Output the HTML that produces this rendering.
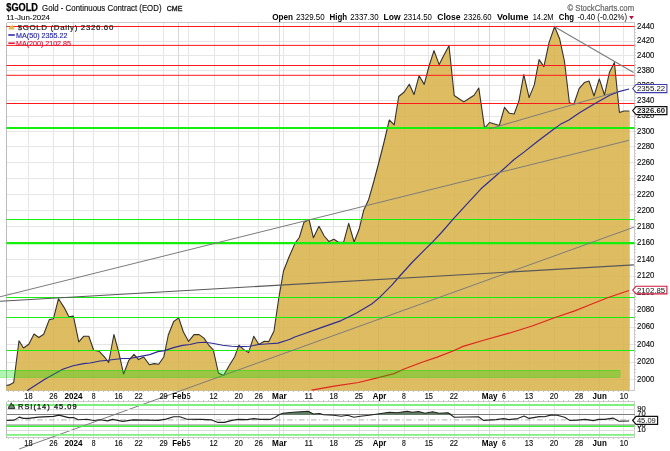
<!DOCTYPE html>
<html><head><meta charset="utf-8"><title>$GOLD</title>
<style>html,body{margin:0;padding:0;background:#fff}svg{display:block;will-change:transform;opacity:.9999}text{font-family:"Liberation Sans", sans-serif}</style></head>
<body>
<svg width="670" height="451" viewBox="0 0 670 451">
<rect width="670" height="451" fill="#fff"/>
<g shape-rendering="crispEdges" stroke-width="1"><line x1="6.5" x2="634.5" y1="379.5" y2="379.5" stroke="#e6e6e6"/><line x1="6.5" x2="634.5" y1="362.5" y2="362.5" stroke="#e6e6e6"/><line x1="6.5" x2="634.5" y1="344.5" y2="344.5" stroke="#e6e6e6"/><line x1="6.5" x2="634.5" y1="327.5" y2="327.5" stroke="#e6e6e6"/><line x1="6.5" x2="634.5" y1="309.5" y2="309.5" stroke="#e6e6e6"/><line x1="6.5" x2="634.5" y1="293.5" y2="293.5" stroke="#e6e6e6"/><line x1="6.5" x2="634.5" y1="276.5" y2="276.5" stroke="#e6e6e6"/><line x1="6.5" x2="634.5" y1="259.5" y2="259.5" stroke="#e6e6e6"/><line x1="6.5" x2="634.5" y1="243.5" y2="243.5" stroke="#e6e6e6"/><line x1="6.5" x2="634.5" y1="226.5" y2="226.5" stroke="#e6e6e6"/><line x1="6.5" x2="634.5" y1="210.5" y2="210.5" stroke="#e6e6e6"/><line x1="6.5" x2="634.5" y1="194.5" y2="194.5" stroke="#e6e6e6"/><line x1="6.5" x2="634.5" y1="178.5" y2="178.5" stroke="#e6e6e6"/><line x1="6.5" x2="634.5" y1="162.5" y2="162.5" stroke="#e6e6e6"/><line x1="6.5" x2="634.5" y1="146.5" y2="146.5" stroke="#e6e6e6"/><line x1="6.5" x2="634.5" y1="131.5" y2="131.5" stroke="#e6e6e6"/><line x1="6.5" x2="634.5" y1="116.5" y2="116.5" stroke="#e6e6e6"/><line x1="6.5" x2="634.5" y1="100.5" y2="100.5" stroke="#e6e6e6"/><line x1="6.5" x2="634.5" y1="85.5" y2="85.5" stroke="#e6e6e6"/><line x1="6.5" x2="634.5" y1="70.5" y2="70.5" stroke="#e6e6e6"/><line x1="6.5" x2="634.5" y1="55.5" y2="55.5" stroke="#e6e6e6"/><line x1="6.5" x2="634.5" y1="41.5" y2="41.5" stroke="#e6e6e6"/><line x1="6.5" x2="634.5" y1="26.5" y2="26.5" stroke="#e6e6e6"/><line x1="28.5" x2="28.5" y1="22.5" y2="390.5" stroke="#e6e6e6"/><line x1="28.5" x2="28.5" y1="401.5" y2="437.5" stroke="#e6e6e6"/><line x1="53.5" x2="53.5" y1="22.5" y2="390.5" stroke="#e6e6e6"/><line x1="53.5" x2="53.5" y1="401.5" y2="437.5" stroke="#e6e6e6"/><line x1="73.5" x2="73.5" y1="22.5" y2="390.5" stroke="#d8d8d8"/><line x1="73.5" x2="73.5" y1="401.5" y2="437.5" stroke="#d8d8d8"/><line x1="93.5" x2="93.5" y1="22.5" y2="390.5" stroke="#e6e6e6"/><line x1="93.5" x2="93.5" y1="401.5" y2="437.5" stroke="#e6e6e6"/><line x1="118.5" x2="118.5" y1="22.5" y2="390.5" stroke="#e6e6e6"/><line x1="118.5" x2="118.5" y1="401.5" y2="437.5" stroke="#e6e6e6"/><line x1="138.5" x2="138.5" y1="22.5" y2="390.5" stroke="#e6e6e6"/><line x1="138.5" x2="138.5" y1="401.5" y2="437.5" stroke="#e6e6e6"/><line x1="163.5" x2="163.5" y1="22.5" y2="390.5" stroke="#e6e6e6"/><line x1="163.5" x2="163.5" y1="401.5" y2="437.5" stroke="#e6e6e6"/><line x1="178.5" x2="178.5" y1="22.5" y2="390.5" stroke="#d8d8d8"/><line x1="178.5" x2="178.5" y1="401.5" y2="437.5" stroke="#d8d8d8"/><line x1="188.5" x2="188.5" y1="22.5" y2="390.5" stroke="#e6e6e6"/><line x1="188.5" x2="188.5" y1="401.5" y2="437.5" stroke="#e6e6e6"/><line x1="214.5" x2="214.5" y1="22.5" y2="390.5" stroke="#e6e6e6"/><line x1="214.5" x2="214.5" y1="401.5" y2="437.5" stroke="#e6e6e6"/><line x1="238.5" x2="238.5" y1="22.5" y2="390.5" stroke="#e6e6e6"/><line x1="238.5" x2="238.5" y1="401.5" y2="437.5" stroke="#e6e6e6"/><line x1="258.5" x2="258.5" y1="22.5" y2="390.5" stroke="#e6e6e6"/><line x1="258.5" x2="258.5" y1="401.5" y2="437.5" stroke="#e6e6e6"/><line x1="279.5" x2="279.5" y1="22.5" y2="390.5" stroke="#d8d8d8"/><line x1="279.5" x2="279.5" y1="401.5" y2="437.5" stroke="#d8d8d8"/><line x1="283.5" x2="283.5" y1="22.5" y2="390.5" stroke="#e6e6e6"/><line x1="283.5" x2="283.5" y1="401.5" y2="437.5" stroke="#e6e6e6"/><line x1="309.5" x2="309.5" y1="22.5" y2="390.5" stroke="#e6e6e6"/><line x1="309.5" x2="309.5" y1="401.5" y2="437.5" stroke="#e6e6e6"/><line x1="333.5" x2="333.5" y1="22.5" y2="390.5" stroke="#e6e6e6"/><line x1="333.5" x2="333.5" y1="401.5" y2="437.5" stroke="#e6e6e6"/><line x1="359.5" x2="359.5" y1="22.5" y2="390.5" stroke="#e6e6e6"/><line x1="359.5" x2="359.5" y1="401.5" y2="437.5" stroke="#e6e6e6"/><line x1="378.5" x2="378.5" y1="22.5" y2="390.5" stroke="#d8d8d8"/><line x1="378.5" x2="378.5" y1="401.5" y2="437.5" stroke="#d8d8d8"/><line x1="404.5" x2="404.5" y1="22.5" y2="390.5" stroke="#e6e6e6"/><line x1="404.5" x2="404.5" y1="401.5" y2="437.5" stroke="#e6e6e6"/><line x1="428.5" x2="428.5" y1="22.5" y2="390.5" stroke="#e6e6e6"/><line x1="428.5" x2="428.5" y1="401.5" y2="437.5" stroke="#e6e6e6"/><line x1="454.5" x2="454.5" y1="22.5" y2="390.5" stroke="#e6e6e6"/><line x1="454.5" x2="454.5" y1="401.5" y2="437.5" stroke="#e6e6e6"/><line x1="478.5" x2="478.5" y1="22.5" y2="390.5" stroke="#e6e6e6"/><line x1="478.5" x2="478.5" y1="401.5" y2="437.5" stroke="#e6e6e6"/><line x1="489.5" x2="489.5" y1="22.5" y2="390.5" stroke="#d8d8d8"/><line x1="489.5" x2="489.5" y1="401.5" y2="437.5" stroke="#d8d8d8"/><line x1="504.5" x2="504.5" y1="22.5" y2="390.5" stroke="#e6e6e6"/><line x1="504.5" x2="504.5" y1="401.5" y2="437.5" stroke="#e6e6e6"/><line x1="529.5" x2="529.5" y1="22.5" y2="390.5" stroke="#e6e6e6"/><line x1="529.5" x2="529.5" y1="401.5" y2="437.5" stroke="#e6e6e6"/><line x1="554.5" x2="554.5" y1="22.5" y2="390.5" stroke="#e6e6e6"/><line x1="554.5" x2="554.5" y1="401.5" y2="437.5" stroke="#e6e6e6"/><line x1="579.5" x2="579.5" y1="22.5" y2="390.5" stroke="#e6e6e6"/><line x1="579.5" x2="579.5" y1="401.5" y2="437.5" stroke="#e6e6e6"/><line x1="599.5" x2="599.5" y1="22.5" y2="390.5" stroke="#d8d8d8"/><line x1="599.5" x2="599.5" y1="401.5" y2="437.5" stroke="#d8d8d8"/><line x1="623.5" x2="623.5" y1="22.5" y2="390.5" stroke="#e6e6e6"/><line x1="623.5" x2="623.5" y1="401.5" y2="437.5" stroke="#e6e6e6"/></g>
<g shape-rendering="crispEdges" fill="none" stroke="#cacaca"><path d="M6.5 22.5H634.5V390.5H6.5"/><path d="M6.5 401.5H634.5V437.5H6.5"/></g>
<g shape-rendering="crispEdges" fill="none" stroke="#bcbcbe"><path d="M6.5 22.5V390.5"/><path d="M6.5 401.5V437.5"/></g>
<g fill="#c4c4c4" shape-rendering="crispEdges"><rect x="8" y="391" width="1" height="1"/><rect x="8" y="400" width="1" height="1"/><rect x="8" y="438" width="1" height="1"/><rect x="13" y="391" width="1" height="1"/><rect x="13" y="400" width="1" height="1"/><rect x="13" y="438" width="1" height="1"/><rect x="18" y="391" width="1" height="1"/><rect x="18" y="400" width="1" height="1"/><rect x="18" y="438" width="1" height="1"/><rect x="23" y="391" width="1" height="1"/><rect x="23" y="400" width="1" height="1"/><rect x="23" y="438" width="1" height="1"/><rect x="28" y="391" width="1" height="1"/><rect x="28" y="400" width="1" height="1"/><rect x="28" y="438" width="1" height="1"/><rect x="33" y="391" width="1" height="1"/><rect x="33" y="400" width="1" height="1"/><rect x="33" y="438" width="1" height="1"/><rect x="38" y="391" width="1" height="1"/><rect x="38" y="400" width="1" height="1"/><rect x="38" y="438" width="1" height="1"/><rect x="43" y="391" width="1" height="1"/><rect x="43" y="400" width="1" height="1"/><rect x="43" y="438" width="1" height="1"/><rect x="48" y="391" width="1" height="1"/><rect x="48" y="400" width="1" height="1"/><rect x="48" y="438" width="1" height="1"/><rect x="53" y="391" width="1" height="1"/><rect x="53" y="400" width="1" height="1"/><rect x="53" y="438" width="1" height="1"/><rect x="58" y="391" width="1" height="1"/><rect x="58" y="400" width="1" height="1"/><rect x="58" y="438" width="1" height="1"/><rect x="63" y="391" width="1" height="1"/><rect x="63" y="400" width="1" height="1"/><rect x="63" y="438" width="1" height="1"/><rect x="68" y="391" width="1" height="1"/><rect x="68" y="400" width="1" height="1"/><rect x="68" y="438" width="1" height="1"/><rect x="73" y="391" width="1" height="1"/><rect x="73" y="400" width="1" height="1"/><rect x="73" y="438" width="1" height="1"/><rect x="78" y="391" width="1" height="1"/><rect x="78" y="400" width="1" height="1"/><rect x="78" y="438" width="1" height="1"/><rect x="83" y="391" width="1" height="1"/><rect x="83" y="400" width="1" height="1"/><rect x="83" y="438" width="1" height="1"/><rect x="88" y="391" width="1" height="1"/><rect x="88" y="400" width="1" height="1"/><rect x="88" y="438" width="1" height="1"/><rect x="93" y="391" width="1" height="1"/><rect x="93" y="400" width="1" height="1"/><rect x="93" y="438" width="1" height="1"/><rect x="98" y="391" width="1" height="1"/><rect x="98" y="400" width="1" height="1"/><rect x="98" y="438" width="1" height="1"/><rect x="103" y="391" width="1" height="1"/><rect x="103" y="400" width="1" height="1"/><rect x="103" y="438" width="1" height="1"/><rect x="108" y="391" width="1" height="1"/><rect x="108" y="400" width="1" height="1"/><rect x="108" y="438" width="1" height="1"/><rect x="113" y="391" width="1" height="1"/><rect x="113" y="400" width="1" height="1"/><rect x="113" y="438" width="1" height="1"/><rect x="118" y="391" width="1" height="1"/><rect x="118" y="400" width="1" height="1"/><rect x="118" y="438" width="1" height="1"/><rect x="123" y="391" width="1" height="1"/><rect x="123" y="400" width="1" height="1"/><rect x="123" y="438" width="1" height="1"/><rect x="128" y="391" width="1" height="1"/><rect x="128" y="400" width="1" height="1"/><rect x="128" y="438" width="1" height="1"/><rect x="133" y="391" width="1" height="1"/><rect x="133" y="400" width="1" height="1"/><rect x="133" y="438" width="1" height="1"/><rect x="138" y="391" width="1" height="1"/><rect x="138" y="400" width="1" height="1"/><rect x="138" y="438" width="1" height="1"/><rect x="143" y="391" width="1" height="1"/><rect x="143" y="400" width="1" height="1"/><rect x="143" y="438" width="1" height="1"/><rect x="148" y="391" width="1" height="1"/><rect x="148" y="400" width="1" height="1"/><rect x="148" y="438" width="1" height="1"/><rect x="153" y="391" width="1" height="1"/><rect x="153" y="400" width="1" height="1"/><rect x="153" y="438" width="1" height="1"/><rect x="158" y="391" width="1" height="1"/><rect x="158" y="400" width="1" height="1"/><rect x="158" y="438" width="1" height="1"/><rect x="163" y="391" width="1" height="1"/><rect x="163" y="400" width="1" height="1"/><rect x="163" y="438" width="1" height="1"/><rect x="168" y="391" width="1" height="1"/><rect x="168" y="400" width="1" height="1"/><rect x="168" y="438" width="1" height="1"/><rect x="173" y="391" width="1" height="1"/><rect x="173" y="400" width="1" height="1"/><rect x="173" y="438" width="1" height="1"/><rect x="178" y="391" width="1" height="1"/><rect x="178" y="400" width="1" height="1"/><rect x="178" y="438" width="1" height="1"/><rect x="183" y="391" width="1" height="1"/><rect x="183" y="400" width="1" height="1"/><rect x="183" y="438" width="1" height="1"/><rect x="188" y="391" width="1" height="1"/><rect x="188" y="400" width="1" height="1"/><rect x="188" y="438" width="1" height="1"/><rect x="193" y="391" width="1" height="1"/><rect x="193" y="400" width="1" height="1"/><rect x="193" y="438" width="1" height="1"/><rect x="198" y="391" width="1" height="1"/><rect x="198" y="400" width="1" height="1"/><rect x="198" y="438" width="1" height="1"/><rect x="203" y="391" width="1" height="1"/><rect x="203" y="400" width="1" height="1"/><rect x="203" y="438" width="1" height="1"/><rect x="208" y="391" width="1" height="1"/><rect x="208" y="400" width="1" height="1"/><rect x="208" y="438" width="1" height="1"/><rect x="213" y="391" width="1" height="1"/><rect x="213" y="400" width="1" height="1"/><rect x="213" y="438" width="1" height="1"/><rect x="218" y="391" width="1" height="1"/><rect x="218" y="400" width="1" height="1"/><rect x="218" y="438" width="1" height="1"/><rect x="223" y="391" width="1" height="1"/><rect x="223" y="400" width="1" height="1"/><rect x="223" y="438" width="1" height="1"/><rect x="228" y="391" width="1" height="1"/><rect x="228" y="400" width="1" height="1"/><rect x="228" y="438" width="1" height="1"/><rect x="233" y="391" width="1" height="1"/><rect x="233" y="400" width="1" height="1"/><rect x="233" y="438" width="1" height="1"/><rect x="238" y="391" width="1" height="1"/><rect x="238" y="400" width="1" height="1"/><rect x="238" y="438" width="1" height="1"/><rect x="243" y="391" width="1" height="1"/><rect x="243" y="400" width="1" height="1"/><rect x="243" y="438" width="1" height="1"/><rect x="248" y="391" width="1" height="1"/><rect x="248" y="400" width="1" height="1"/><rect x="248" y="438" width="1" height="1"/><rect x="253" y="391" width="1" height="1"/><rect x="253" y="400" width="1" height="1"/><rect x="253" y="438" width="1" height="1"/><rect x="258" y="391" width="1" height="1"/><rect x="258" y="400" width="1" height="1"/><rect x="258" y="438" width="1" height="1"/><rect x="263" y="391" width="1" height="1"/><rect x="263" y="400" width="1" height="1"/><rect x="263" y="438" width="1" height="1"/><rect x="268" y="391" width="1" height="1"/><rect x="268" y="400" width="1" height="1"/><rect x="268" y="438" width="1" height="1"/><rect x="273" y="391" width="1" height="1"/><rect x="273" y="400" width="1" height="1"/><rect x="273" y="438" width="1" height="1"/><rect x="278" y="391" width="1" height="1"/><rect x="278" y="400" width="1" height="1"/><rect x="278" y="438" width="1" height="1"/><rect x="283" y="391" width="1" height="1"/><rect x="283" y="400" width="1" height="1"/><rect x="283" y="438" width="1" height="1"/><rect x="288" y="391" width="1" height="1"/><rect x="288" y="400" width="1" height="1"/><rect x="288" y="438" width="1" height="1"/><rect x="293" y="391" width="1" height="1"/><rect x="293" y="400" width="1" height="1"/><rect x="293" y="438" width="1" height="1"/><rect x="298" y="391" width="1" height="1"/><rect x="298" y="400" width="1" height="1"/><rect x="298" y="438" width="1" height="1"/><rect x="303" y="391" width="1" height="1"/><rect x="303" y="400" width="1" height="1"/><rect x="303" y="438" width="1" height="1"/><rect x="308" y="391" width="1" height="1"/><rect x="308" y="400" width="1" height="1"/><rect x="308" y="438" width="1" height="1"/><rect x="313" y="391" width="1" height="1"/><rect x="313" y="400" width="1" height="1"/><rect x="313" y="438" width="1" height="1"/><rect x="318" y="391" width="1" height="1"/><rect x="318" y="400" width="1" height="1"/><rect x="318" y="438" width="1" height="1"/><rect x="323" y="391" width="1" height="1"/><rect x="323" y="400" width="1" height="1"/><rect x="323" y="438" width="1" height="1"/><rect x="328" y="391" width="1" height="1"/><rect x="328" y="400" width="1" height="1"/><rect x="328" y="438" width="1" height="1"/><rect x="333" y="391" width="1" height="1"/><rect x="333" y="400" width="1" height="1"/><rect x="333" y="438" width="1" height="1"/><rect x="338" y="391" width="1" height="1"/><rect x="338" y="400" width="1" height="1"/><rect x="338" y="438" width="1" height="1"/><rect x="343" y="391" width="1" height="1"/><rect x="343" y="400" width="1" height="1"/><rect x="343" y="438" width="1" height="1"/><rect x="348" y="391" width="1" height="1"/><rect x="348" y="400" width="1" height="1"/><rect x="348" y="438" width="1" height="1"/><rect x="353" y="391" width="1" height="1"/><rect x="353" y="400" width="1" height="1"/><rect x="353" y="438" width="1" height="1"/><rect x="358" y="391" width="1" height="1"/><rect x="358" y="400" width="1" height="1"/><rect x="358" y="438" width="1" height="1"/><rect x="363" y="391" width="1" height="1"/><rect x="363" y="400" width="1" height="1"/><rect x="363" y="438" width="1" height="1"/><rect x="368" y="391" width="1" height="1"/><rect x="368" y="400" width="1" height="1"/><rect x="368" y="438" width="1" height="1"/><rect x="373" y="391" width="1" height="1"/><rect x="373" y="400" width="1" height="1"/><rect x="373" y="438" width="1" height="1"/><rect x="378" y="391" width="1" height="1"/><rect x="378" y="400" width="1" height="1"/><rect x="378" y="438" width="1" height="1"/><rect x="383" y="391" width="1" height="1"/><rect x="383" y="400" width="1" height="1"/><rect x="383" y="438" width="1" height="1"/><rect x="388" y="391" width="1" height="1"/><rect x="388" y="400" width="1" height="1"/><rect x="388" y="438" width="1" height="1"/><rect x="393" y="391" width="1" height="1"/><rect x="393" y="400" width="1" height="1"/><rect x="393" y="438" width="1" height="1"/><rect x="398" y="391" width="1" height="1"/><rect x="398" y="400" width="1" height="1"/><rect x="398" y="438" width="1" height="1"/><rect x="403" y="391" width="1" height="1"/><rect x="403" y="400" width="1" height="1"/><rect x="403" y="438" width="1" height="1"/><rect x="408" y="391" width="1" height="1"/><rect x="408" y="400" width="1" height="1"/><rect x="408" y="438" width="1" height="1"/><rect x="413" y="391" width="1" height="1"/><rect x="413" y="400" width="1" height="1"/><rect x="413" y="438" width="1" height="1"/><rect x="418" y="391" width="1" height="1"/><rect x="418" y="400" width="1" height="1"/><rect x="418" y="438" width="1" height="1"/><rect x="423" y="391" width="1" height="1"/><rect x="423" y="400" width="1" height="1"/><rect x="423" y="438" width="1" height="1"/><rect x="428" y="391" width="1" height="1"/><rect x="428" y="400" width="1" height="1"/><rect x="428" y="438" width="1" height="1"/><rect x="433" y="391" width="1" height="1"/><rect x="433" y="400" width="1" height="1"/><rect x="433" y="438" width="1" height="1"/><rect x="438" y="391" width="1" height="1"/><rect x="438" y="400" width="1" height="1"/><rect x="438" y="438" width="1" height="1"/><rect x="443" y="391" width="1" height="1"/><rect x="443" y="400" width="1" height="1"/><rect x="443" y="438" width="1" height="1"/><rect x="448" y="391" width="1" height="1"/><rect x="448" y="400" width="1" height="1"/><rect x="448" y="438" width="1" height="1"/><rect x="453" y="391" width="1" height="1"/><rect x="453" y="400" width="1" height="1"/><rect x="453" y="438" width="1" height="1"/><rect x="458" y="391" width="1" height="1"/><rect x="458" y="400" width="1" height="1"/><rect x="458" y="438" width="1" height="1"/><rect x="463" y="391" width="1" height="1"/><rect x="463" y="400" width="1" height="1"/><rect x="463" y="438" width="1" height="1"/><rect x="468" y="391" width="1" height="1"/><rect x="468" y="400" width="1" height="1"/><rect x="468" y="438" width="1" height="1"/><rect x="473" y="391" width="1" height="1"/><rect x="473" y="400" width="1" height="1"/><rect x="473" y="438" width="1" height="1"/><rect x="478" y="391" width="1" height="1"/><rect x="478" y="400" width="1" height="1"/><rect x="478" y="438" width="1" height="1"/><rect x="483" y="391" width="1" height="1"/><rect x="483" y="400" width="1" height="1"/><rect x="483" y="438" width="1" height="1"/><rect x="488" y="391" width="1" height="1"/><rect x="488" y="400" width="1" height="1"/><rect x="488" y="438" width="1" height="1"/><rect x="493" y="391" width="1" height="1"/><rect x="493" y="400" width="1" height="1"/><rect x="493" y="438" width="1" height="1"/><rect x="498" y="391" width="1" height="1"/><rect x="498" y="400" width="1" height="1"/><rect x="498" y="438" width="1" height="1"/><rect x="503" y="391" width="1" height="1"/><rect x="503" y="400" width="1" height="1"/><rect x="503" y="438" width="1" height="1"/><rect x="508" y="391" width="1" height="1"/><rect x="508" y="400" width="1" height="1"/><rect x="508" y="438" width="1" height="1"/><rect x="513" y="391" width="1" height="1"/><rect x="513" y="400" width="1" height="1"/><rect x="513" y="438" width="1" height="1"/><rect x="518" y="391" width="1" height="1"/><rect x="518" y="400" width="1" height="1"/><rect x="518" y="438" width="1" height="1"/><rect x="523" y="391" width="1" height="1"/><rect x="523" y="400" width="1" height="1"/><rect x="523" y="438" width="1" height="1"/><rect x="528" y="391" width="1" height="1"/><rect x="528" y="400" width="1" height="1"/><rect x="528" y="438" width="1" height="1"/><rect x="533" y="391" width="1" height="1"/><rect x="533" y="400" width="1" height="1"/><rect x="533" y="438" width="1" height="1"/><rect x="538" y="391" width="1" height="1"/><rect x="538" y="400" width="1" height="1"/><rect x="538" y="438" width="1" height="1"/><rect x="543" y="391" width="1" height="1"/><rect x="543" y="400" width="1" height="1"/><rect x="543" y="438" width="1" height="1"/><rect x="548" y="391" width="1" height="1"/><rect x="548" y="400" width="1" height="1"/><rect x="548" y="438" width="1" height="1"/><rect x="553" y="391" width="1" height="1"/><rect x="553" y="400" width="1" height="1"/><rect x="553" y="438" width="1" height="1"/><rect x="558" y="391" width="1" height="1"/><rect x="558" y="400" width="1" height="1"/><rect x="558" y="438" width="1" height="1"/><rect x="563" y="391" width="1" height="1"/><rect x="563" y="400" width="1" height="1"/><rect x="563" y="438" width="1" height="1"/><rect x="568" y="391" width="1" height="1"/><rect x="568" y="400" width="1" height="1"/><rect x="568" y="438" width="1" height="1"/><rect x="573" y="391" width="1" height="1"/><rect x="573" y="400" width="1" height="1"/><rect x="573" y="438" width="1" height="1"/><rect x="578" y="391" width="1" height="1"/><rect x="578" y="400" width="1" height="1"/><rect x="578" y="438" width="1" height="1"/><rect x="583" y="391" width="1" height="1"/><rect x="583" y="400" width="1" height="1"/><rect x="583" y="438" width="1" height="1"/><rect x="588" y="391" width="1" height="1"/><rect x="588" y="400" width="1" height="1"/><rect x="588" y="438" width="1" height="1"/><rect x="593" y="391" width="1" height="1"/><rect x="593" y="400" width="1" height="1"/><rect x="593" y="438" width="1" height="1"/><rect x="598" y="391" width="1" height="1"/><rect x="598" y="400" width="1" height="1"/><rect x="598" y="438" width="1" height="1"/><rect x="603" y="391" width="1" height="1"/><rect x="603" y="400" width="1" height="1"/><rect x="603" y="438" width="1" height="1"/><rect x="608" y="391" width="1" height="1"/><rect x="608" y="400" width="1" height="1"/><rect x="608" y="438" width="1" height="1"/><rect x="613" y="391" width="1" height="1"/><rect x="613" y="400" width="1" height="1"/><rect x="613" y="438" width="1" height="1"/><rect x="618" y="391" width="1" height="1"/><rect x="618" y="400" width="1" height="1"/><rect x="618" y="438" width="1" height="1"/><rect x="623" y="391" width="1" height="1"/><rect x="623" y="400" width="1" height="1"/><rect x="623" y="438" width="1" height="1"/><rect x="628" y="391" width="1" height="1"/><rect x="628" y="400" width="1" height="1"/><rect x="628" y="438" width="1" height="1"/></g>
<path d="M6.5,390.5 L6.4,385.5 9.3,384.9 13.7,382.5 19.0,340.7 23.5,348.0 28.8,344.3 34.0,334.0 38.8,337.5 43.7,334.2 49.3,319.6 53.4,318.8 58.5,298.7 64.2,307.6 69.0,316.9 73.4,316.1 78.8,341.9 83.6,336.3 88.8,336.3 93.7,350.2 99.0,351.2 104.2,356.6 108.7,362.5 113.9,334.5 118.7,352.1 123.6,374.0 128.8,360.3 134.0,354.3 138.5,359.6 143.7,357.0 149.4,364.8 154.2,363.6 158.7,364.3 163.8,357.0 168.3,335.0 173.7,321.5 178.7,317.9 183.4,332.0 188.6,341.4 194.0,334.6 199.1,334.6 204.0,338.1 208.5,344.8 213.3,349.8 218.4,373.0 223.6,375.5 229.1,365.8 234.7,356.8 238.9,345.1 243.5,349.4 248.6,352.6 253.8,336.2 258.8,344.5 264.3,341.2 268.8,341.6 274.0,331.0 278.8,298.0 283.5,271.0 289.0,257.0 295.1,243.1 299.3,237.5 304.0,222.2 309.0,219.5 313.4,237.8 319.0,226.3 324.2,236.0 329.0,241.6 333.9,239.3 338.5,242.3 343.6,242.3 348.7,223.4 354.1,242.0 359.1,229.3 363.6,210.6 368.7,199.4 373.8,181.5 378.7,163.0 383.7,143.5 389.3,120.0 394.2,124.8 398.7,96.5 404.2,92.0 409.3,84.2 414.0,94.6 419.1,75.7 424.2,84.4 429.2,65.5 434.0,50.6 439.2,64.6 444.0,55.1 449.0,45.7 454.2,95.5 459.0,98.7 463.9,101.9 469.0,98.5 474.1,95.2 478.8,88.0 484.6,128.2 489.6,122.5 494.5,124.0 499.3,125.5 504.5,107.3 509.4,113.3 514.2,114.0 519.0,100.6 523.8,74.6 529.1,97.6 534.3,84.9 539.1,59.6 543.9,66.6 549.1,42.4 554.6,26.7 559.6,38.7 564.5,61.5 569.4,102.8 573.9,104.0 579.1,88.6 584.3,82.6 589.1,81.1 594.0,96.0 599.3,78.9 604.5,95.0 609.5,72.2 614.4,62.5 619.4,112.5 623.9,111.0 629.3,111.0 L629.8,111 L629.8,390.5 Z" fill="#d8b045" fill-opacity="0.85"/>
<polyline points="6.4,385.5 9.3,384.9 13.7,382.5 19.0,340.7 23.5,348.0 28.8,344.3 34.0,334.0 38.8,337.5 43.7,334.2 49.3,319.6 53.4,318.8 58.5,298.7 64.2,307.6 69.0,316.9 73.4,316.1 78.8,341.9 83.6,336.3 88.8,336.3 93.7,350.2 99.0,351.2 104.2,356.6 108.7,362.5 113.9,334.5 118.7,352.1 123.6,374.0 128.8,360.3 134.0,354.3 138.5,359.6 143.7,357.0 149.4,364.8 154.2,363.6 158.7,364.3 163.8,357.0 168.3,335.0 173.7,321.5 178.7,317.9 183.4,332.0 188.6,341.4 194.0,334.6 199.1,334.6 204.0,338.1 208.5,344.8 213.3,349.8 218.4,373.0 223.6,375.5 229.1,365.8 234.7,356.8 238.9,345.1 243.5,349.4 248.6,352.6 253.8,336.2 258.8,344.5 264.3,341.2 268.8,341.6 274.0,331.0 278.8,298.0 283.5,271.0 289.0,257.0 295.1,243.1 299.3,237.5 304.0,222.2 309.0,219.5 313.4,237.8 319.0,226.3 324.2,236.0 329.0,241.6 333.9,239.3 338.5,242.3 343.6,242.3 348.7,223.4 354.1,242.0 359.1,229.3 363.6,210.6 368.7,199.4 373.8,181.5 378.7,163.0 383.7,143.5 389.3,120.0 394.2,124.8 398.7,96.5 404.2,92.0 409.3,84.2 414.0,94.6 419.1,75.7 424.2,84.4 429.2,65.5 434.0,50.6 439.2,64.6 444.0,55.1 449.0,45.7 454.2,95.5 459.0,98.7 463.9,101.9 469.0,98.5 474.1,95.2 478.8,88.0 484.6,128.2 489.6,122.5 494.5,124.0 499.3,125.5 504.5,107.3 509.4,113.3 514.2,114.0 519.0,100.6 523.8,74.6 529.1,97.6 534.3,84.9 539.1,59.6 543.9,66.6 549.1,42.4 554.6,26.7 559.6,38.7 564.5,61.5 569.4,102.8 573.9,104.0 579.1,88.6 584.3,82.6 589.1,81.1 594.0,96.0 599.3,78.9 604.5,95.0 609.5,72.2 614.4,62.5 619.4,112.5 623.9,111.0 629.3,111.0" fill="none" stroke="#35322e" stroke-width="1.1" stroke-linejoin="round"/>
<g><line x1="6.5" x2="634.5" y1="26.5" y2="26.5" stroke="#ff1a1a" stroke-opacity="1"/><line x1="6.5" x2="634.5" y1="45.4" y2="45.4" stroke="#ff1a1a" stroke-opacity="1"/><line x1="6.5" x2="634.5" y1="65.5" y2="65.5" stroke="#ff1a1a" stroke-opacity="1"/><line x1="6.5" x2="634.5" y1="75.3" y2="75.3" stroke="#ff1a1a" stroke-opacity="1"/><line x1="6.5" x2="634.5" y1="103.5" y2="103.5" stroke="#ff1a1a" stroke-opacity="1"/><line x1="6.5" x2="634.5" y1="219.5" y2="219.5" stroke="#14f00c"/><line x1="6.5" x2="634.5" y1="297.5" y2="297.5" stroke="#14f00c"/><line x1="6.5" x2="634.5" y1="317.5" y2="317.5" stroke="#14f00c"/><line x1="6.5" x2="634.5" y1="350.5" y2="350.5" stroke="#14f00c"/><line x1="6.5" x2="634.5" y1="128.0" y2="128.0" stroke="#14f00c" stroke-width="2.15"/><line x1="6.5" x2="634.5" y1="243.1" y2="243.1" stroke="#14f00c" stroke-width="2.15"/></g>
<polyline points="27.3,390.4 44.8,379.3 62.7,369.3 73.1,365.8 83.6,363.6 90.0,363.0 100.0,361.0 107.9,360.3 122.0,358.5 129.5,358.5 139.3,356.6 149.7,354.6 157.9,351.6 164.6,350.6 173.6,347.6 182.5,345.4 190.0,344.5 197.3,342.8 204.8,342.2 212.2,343.3 222.7,345.2 231.6,346.3 240.6,346.6 249.6,346.3 258.7,344.5 269.1,343.7 278.0,343.1 285.5,340.7 290.0,339.3 294.8,337.0 305.5,333.3 323.3,326.9 341.2,320.6 350.0,316.3 356.5,312.9 371.7,304.0 379.4,297.6 392.1,284.9 399.8,276.0 412.5,262.0 425.3,249.2 432.9,241.6 441.5,232.5 452.9,219.4 465.7,205.4 481.0,188.8 501.4,171.0 514.1,159.5 524.3,151.9 537.0,141.7 552.3,130.2 560.0,124.6 568.9,120.0 579.9,112.5 596.3,102.8 609.7,95.3 618.7,91.6 629.1,89.0" fill="none" stroke="#2c2c92" stroke-width="1.15" stroke-linejoin="round"/>
<polyline points="311.6,390.1 335.7,385.8 358.5,382.5 376.3,378.2 394.1,373.6 404.2,369.0 422.0,362.2 437.2,357.1 452.4,351.3 463.1,346.4 482.8,340.5 509.1,333.2 532.1,326.0 555.1,317.5 574.8,310.9 591.2,304.3 607.6,297.8 620.8,293.2 629.0,290.5" fill="none" stroke="#e0261e" stroke-width="1.2" stroke-linejoin="round"/>
<g><line x1="19.2" y1="449.0" x2="633.9" y2="227.2" stroke="#7c7c7e" stroke-width="1"/><line x1="0.0" y1="296.8" x2="629.0" y2="140.3" stroke="#7c7c7e" stroke-width="1"/><line x1="0.0" y1="301.2" x2="633.9" y2="264.9" stroke="#58585a" stroke-width="1.1"/><line x1="554.6" y1="26.7" x2="633.6" y2="72.6" stroke="#7c7c7e" stroke-width="1.1"/><line x1="489.0" y1="129.0" x2="618.0" y2="91.5" stroke="#7c7c7e" stroke-width="1"/></g>
<rect x="-3" y="370" width="623.8" height="7.9" rx="1.8" fill="#00de00" fill-opacity="0.3"/>
<rect x="0" y="370" width="619.8" height="1" fill="#00e600" fill-opacity="0.36"/>
<rect x="0" y="376.9" width="619.8" height="1" fill="#00e600" fill-opacity="0.14"/>
<g><line x1="6.5" x2="634.5" y1="409.5" y2="409.5" stroke="#dcdcdc" shape-rendering="crispEdges"/><line x1="6.5" x2="634.5" y1="430.5" y2="430.5" stroke="#dcdcdc" shape-rendering="crispEdges"/><line x1="6.5" x2="634.5" y1="405.0" y2="405.0" stroke="#7ef07e" stroke-width="2.0"/><line x1="6.5" x2="634.5" y1="434.9" y2="434.9" stroke="#7ef07e" stroke-width="1.9"/><line x1="6.5" x2="634.5" y1="414.5" y2="414.5" stroke="#7c7c7c" shape-rendering="crispEdges"/><line x1="6.5" x2="634.5" y1="425" y2="425" stroke="#8a7c8a" stroke-width="1"/><line x1="6.5" x2="634.5" y1="426.3" y2="426.3" stroke="#3cf03c" stroke-width="1.6"/><line x1="6.5" x2="634.5" y1="419.9" y2="419.9" stroke="#b0b0b0" stroke-width="1" stroke-dasharray="5.6 2.5 1.2 2.6" stroke-dashoffset="5"/><path d="M6.7,414.8 L6.7,414.8 L14.2,414.8 L19.2,414.8 L23.4,414.8 L28.4,414.8 L38.5,414.8 L53.5,414.8 L58.9,414.8 L68.6,414.8 L73.6,414.8 L78.3,414.8 L87.0,414.8 L93.6,414.8 L100.3,414.8 L107.6,414.8 L112.7,414.8 L122.8,414.8 L133.0,414.8 L158.4,414.8 L166.0,414.8 L173.6,414.8 L179.9,414.8 L186.3,414.8 L201.5,414.8 L211.7,414.8 L218.0,414.8 L224.4,414.8 L232.0,414.8 L238.3,414.8 L247.2,414.8 L253.6,414.8 L259.9,414.8 L270.2,414.8 L275.2,414.8 L279.0,414.8 L282.8,413.3 L293.0,412.3 L308.2,411.2 L313.3,414.0 L319.6,413.5 L323.5,414.8 L333.6,414.8 L341.2,414.8 L347.6,414.8 L353.9,414.8 L360.3,414.8 L369.1,414.8 L379.3,413.8 L389.4,412.3 L397.1,412.8 L407.2,411.2 L412.3,412.3 L418.6,411.5 L425.0,413.3 L432.7,411.8 L439.0,413.3 L448.0,412.8 L454.3,414.8 L478.4,414.8 L483.5,414.8 L496.1,414.8 L503.8,414.8 L508.8,414.8 L517.7,414.8 L524.1,414.8 L529.1,414.8 L539.3,414.8 L544.4,414.8 L550.7,414.8 L557.1,414.8 L564.7,414.8 L569.7,414.8 L577.4,414.8 L585.0,414.8 L593.5,414.8 L598.5,414.8 L604.8,414.8 L612.9,414.8 L619.1,414.8 L629.1,414.8 L629.1,414.8 Z" fill="#5f7f62"/><polyline points="6.7,420.4 14.2,420.1 19.2,417.1 23.4,418.4 28.4,418.4 38.5,417.1 53.5,416.4 58.9,415.1 68.6,417.6 73.6,417.6 78.3,419.8 87.0,419.3 93.6,420.5 100.3,419.8 107.6,420.9 112.7,419.4 122.8,421.4 133.0,419.9 158.4,420.4 166.0,419.1 173.6,416.8 179.9,416.8 186.3,419.1 201.5,419.4 211.7,419.9 218.0,422.4 224.4,422.4 232.0,420.4 238.3,419.4 247.2,419.6 253.6,418.6 259.9,419.4 270.2,419.4 275.2,417.3 279.0,414.8 282.8,413.3 293.0,412.3 308.2,411.2 313.3,414.0 319.6,413.5 323.5,414.8 333.6,415.3 341.2,416.3 347.6,415.3 353.9,417.3 360.3,416.3 369.1,415.3 379.3,413.8 389.4,412.3 397.1,412.8 407.2,411.2 412.3,412.3 418.6,411.5 425.0,413.3 432.7,411.8 439.0,413.3 448.0,412.8 454.3,417.3 478.4,416.8 483.5,420.4 496.1,419.6 503.8,418.6 508.8,419.6 517.7,418.6 524.1,416.1 529.1,418.4 539.3,416.6 544.4,416.8 550.7,415.1 557.1,415.3 564.7,417.3 569.7,420.4 577.4,420.1 585.0,419.4 593.5,420.6 598.5,419.4 604.8,419.4 612.9,418.1 619.1,421.2 629.1,421.0" fill="none" stroke="#222" stroke-width="1.1" stroke-linejoin="round"/></g>
<g><text x="637.1" y="381.7" font-size="8.4" textLength="17.3" lengthAdjust="spacingAndGlyphs" fill="#111" stroke="#111" stroke-width=".15">2000</text><text x="637.1" y="364.0" font-size="8.4" textLength="17.3" lengthAdjust="spacingAndGlyphs" fill="#111" stroke="#111" stroke-width=".15">2020</text><text x="637.1" y="346.6" font-size="8.4" textLength="17.3" lengthAdjust="spacingAndGlyphs" fill="#111" stroke="#111" stroke-width=".15">2040</text><text x="637.1" y="329.2" font-size="8.4" textLength="17.3" lengthAdjust="spacingAndGlyphs" fill="#111" stroke="#111" stroke-width=".15">2060</text><text x="637.1" y="312.1" font-size="8.4" textLength="17.3" lengthAdjust="spacingAndGlyphs" fill="#111" stroke="#111" stroke-width=".15">2080</text><text x="637.1" y="295.1" font-size="8.4" textLength="17.3" lengthAdjust="spacingAndGlyphs" fill="#111" stroke="#111" stroke-width=".15">2100</text><text x="637.1" y="278.3" font-size="8.4" textLength="17.3" lengthAdjust="spacingAndGlyphs" fill="#111" stroke="#111" stroke-width=".15">2120</text><text x="637.1" y="261.6" font-size="8.4" textLength="17.3" lengthAdjust="spacingAndGlyphs" fill="#111" stroke="#111" stroke-width=".15">2140</text><text x="637.1" y="245.1" font-size="8.4" textLength="17.3" lengthAdjust="spacingAndGlyphs" fill="#111" stroke="#111" stroke-width=".15">2160</text><text x="637.1" y="228.8" font-size="8.4" textLength="17.3" lengthAdjust="spacingAndGlyphs" fill="#111" stroke="#111" stroke-width=".15">2180</text><text x="637.1" y="212.6" font-size="8.4" textLength="17.3" lengthAdjust="spacingAndGlyphs" fill="#111" stroke="#111" stroke-width=".15">2200</text><text x="637.1" y="196.5" font-size="8.4" textLength="17.3" lengthAdjust="spacingAndGlyphs" fill="#111" stroke="#111" stroke-width=".15">2220</text><text x="637.1" y="180.6" font-size="8.4" textLength="17.3" lengthAdjust="spacingAndGlyphs" fill="#111" stroke="#111" stroke-width=".15">2240</text><text x="637.1" y="164.8" font-size="8.4" textLength="17.3" lengthAdjust="spacingAndGlyphs" fill="#111" stroke="#111" stroke-width=".15">2260</text><text x="637.1" y="149.2" font-size="8.4" textLength="17.3" lengthAdjust="spacingAndGlyphs" fill="#111" stroke="#111" stroke-width=".15">2280</text><text x="637.1" y="133.7" font-size="8.4" textLength="17.3" lengthAdjust="spacingAndGlyphs" fill="#111" stroke="#111" stroke-width=".15">2300</text><text x="637.1" y="118.3" font-size="8.4" textLength="17.3" lengthAdjust="spacingAndGlyphs" fill="#111" stroke="#111" stroke-width=".15">2320</text><text x="637.1" y="103.1" font-size="8.4" textLength="17.3" lengthAdjust="spacingAndGlyphs" fill="#111" stroke="#111" stroke-width=".15">2340</text><text x="637.1" y="88.0" font-size="8.4" textLength="17.3" lengthAdjust="spacingAndGlyphs" fill="#111" stroke="#111" stroke-width=".15">2360</text><text x="637.1" y="73.0" font-size="8.4" textLength="17.3" lengthAdjust="spacingAndGlyphs" fill="#111" stroke="#111" stroke-width=".15">2380</text><text x="637.1" y="58.1" font-size="8.4" textLength="17.3" lengthAdjust="spacingAndGlyphs" fill="#111" stroke="#111" stroke-width=".15">2400</text><text x="637.1" y="43.4" font-size="8.4" textLength="17.3" lengthAdjust="spacingAndGlyphs" fill="#111" stroke="#111" stroke-width=".15">2420</text><text x="637.1" y="28.8" font-size="8.4" textLength="17.3" lengthAdjust="spacingAndGlyphs" fill="#111" stroke="#111" stroke-width=".15">2440</text><line x1="635" x2="636.4" y1="379.5" y2="379.5" stroke="#d0d0d0" shape-rendering="crispEdges"/><line x1="635" x2="636.4" y1="376.5" y2="376.5" stroke="#d0d0d0" shape-rendering="crispEdges"/><line x1="635" x2="636.4" y1="372.5" y2="372.5" stroke="#d0d0d0" shape-rendering="crispEdges"/><line x1="635" x2="636.4" y1="369.5" y2="369.5" stroke="#d0d0d0" shape-rendering="crispEdges"/><line x1="635" x2="636.4" y1="365.5" y2="365.5" stroke="#d0d0d0" shape-rendering="crispEdges"/><line x1="635" x2="636.4" y1="362.5" y2="362.5" stroke="#d0d0d0" shape-rendering="crispEdges"/><line x1="635" x2="636.4" y1="358.5" y2="358.5" stroke="#d0d0d0" shape-rendering="crispEdges"/><line x1="635" x2="636.4" y1="355.5" y2="355.5" stroke="#d0d0d0" shape-rendering="crispEdges"/><line x1="635" x2="636.4" y1="351.5" y2="351.5" stroke="#d0d0d0" shape-rendering="crispEdges"/><line x1="635" x2="636.4" y1="348.5" y2="348.5" stroke="#d0d0d0" shape-rendering="crispEdges"/><line x1="635" x2="636.4" y1="344.5" y2="344.5" stroke="#d0d0d0" shape-rendering="crispEdges"/><line x1="635" x2="636.4" y1="341.5" y2="341.5" stroke="#d0d0d0" shape-rendering="crispEdges"/><line x1="635" x2="636.4" y1="337.5" y2="337.5" stroke="#d0d0d0" shape-rendering="crispEdges"/><line x1="635" x2="636.4" y1="334.5" y2="334.5" stroke="#d0d0d0" shape-rendering="crispEdges"/><line x1="635" x2="636.4" y1="330.5" y2="330.5" stroke="#d0d0d0" shape-rendering="crispEdges"/><line x1="635" x2="636.4" y1="327.5" y2="327.5" stroke="#d0d0d0" shape-rendering="crispEdges"/><line x1="635" x2="636.4" y1="323.5" y2="323.5" stroke="#d0d0d0" shape-rendering="crispEdges"/><line x1="635" x2="636.4" y1="320.5" y2="320.5" stroke="#d0d0d0" shape-rendering="crispEdges"/><line x1="635" x2="636.4" y1="316.5" y2="316.5" stroke="#d0d0d0" shape-rendering="crispEdges"/><line x1="635" x2="636.4" y1="313.5" y2="313.5" stroke="#d0d0d0" shape-rendering="crispEdges"/><line x1="635" x2="636.4" y1="309.5" y2="309.5" stroke="#d0d0d0" shape-rendering="crispEdges"/><line x1="635" x2="636.4" y1="306.5" y2="306.5" stroke="#d0d0d0" shape-rendering="crispEdges"/><line x1="635" x2="636.4" y1="303.5" y2="303.5" stroke="#d0d0d0" shape-rendering="crispEdges"/><line x1="635" x2="636.4" y1="299.5" y2="299.5" stroke="#d0d0d0" shape-rendering="crispEdges"/><line x1="635" x2="636.4" y1="296.5" y2="296.5" stroke="#d0d0d0" shape-rendering="crispEdges"/><line x1="635" x2="636.4" y1="293.5" y2="293.5" stroke="#d0d0d0" shape-rendering="crispEdges"/><line x1="635" x2="636.4" y1="289.5" y2="289.5" stroke="#d0d0d0" shape-rendering="crispEdges"/><line x1="635" x2="636.4" y1="286.5" y2="286.5" stroke="#d0d0d0" shape-rendering="crispEdges"/><line x1="635" x2="636.4" y1="282.5" y2="282.5" stroke="#d0d0d0" shape-rendering="crispEdges"/><line x1="635" x2="636.4" y1="279.5" y2="279.5" stroke="#d0d0d0" shape-rendering="crispEdges"/><line x1="635" x2="636.4" y1="276.5" y2="276.5" stroke="#d0d0d0" shape-rendering="crispEdges"/><line x1="635" x2="636.4" y1="272.5" y2="272.5" stroke="#d0d0d0" shape-rendering="crispEdges"/><line x1="635" x2="636.4" y1="269.5" y2="269.5" stroke="#d0d0d0" shape-rendering="crispEdges"/><line x1="635" x2="636.4" y1="266.5" y2="266.5" stroke="#d0d0d0" shape-rendering="crispEdges"/><line x1="635" x2="636.4" y1="262.5" y2="262.5" stroke="#d0d0d0" shape-rendering="crispEdges"/><line x1="635" x2="636.4" y1="259.5" y2="259.5" stroke="#d0d0d0" shape-rendering="crispEdges"/><line x1="635" x2="636.4" y1="256.5" y2="256.5" stroke="#d0d0d0" shape-rendering="crispEdges"/><line x1="635" x2="636.4" y1="252.5" y2="252.5" stroke="#d0d0d0" shape-rendering="crispEdges"/><line x1="635" x2="636.4" y1="249.5" y2="249.5" stroke="#d0d0d0" shape-rendering="crispEdges"/><line x1="635" x2="636.4" y1="246.5" y2="246.5" stroke="#d0d0d0" shape-rendering="crispEdges"/><line x1="635" x2="636.4" y1="243.5" y2="243.5" stroke="#d0d0d0" shape-rendering="crispEdges"/><line x1="635" x2="636.4" y1="239.5" y2="239.5" stroke="#d0d0d0" shape-rendering="crispEdges"/><line x1="635" x2="636.4" y1="236.5" y2="236.5" stroke="#d0d0d0" shape-rendering="crispEdges"/><line x1="635" x2="636.4" y1="233.5" y2="233.5" stroke="#d0d0d0" shape-rendering="crispEdges"/><line x1="635" x2="636.4" y1="229.5" y2="229.5" stroke="#d0d0d0" shape-rendering="crispEdges"/><line x1="635" x2="636.4" y1="226.5" y2="226.5" stroke="#d0d0d0" shape-rendering="crispEdges"/><line x1="635" x2="636.4" y1="223.5" y2="223.5" stroke="#d0d0d0" shape-rendering="crispEdges"/><line x1="635" x2="636.4" y1="220.5" y2="220.5" stroke="#d0d0d0" shape-rendering="crispEdges"/><line x1="635" x2="636.4" y1="216.5" y2="216.5" stroke="#d0d0d0" shape-rendering="crispEdges"/><line x1="635" x2="636.4" y1="213.5" y2="213.5" stroke="#d0d0d0" shape-rendering="crispEdges"/><line x1="635" x2="636.4" y1="210.5" y2="210.5" stroke="#d0d0d0" shape-rendering="crispEdges"/><line x1="635" x2="636.4" y1="207.5" y2="207.5" stroke="#d0d0d0" shape-rendering="crispEdges"/><line x1="635" x2="636.4" y1="203.5" y2="203.5" stroke="#d0d0d0" shape-rendering="crispEdges"/><line x1="635" x2="636.4" y1="200.5" y2="200.5" stroke="#d0d0d0" shape-rendering="crispEdges"/><line x1="635" x2="636.4" y1="197.5" y2="197.5" stroke="#d0d0d0" shape-rendering="crispEdges"/><line x1="635" x2="636.4" y1="194.5" y2="194.5" stroke="#d0d0d0" shape-rendering="crispEdges"/><line x1="635" x2="636.4" y1="191.5" y2="191.5" stroke="#d0d0d0" shape-rendering="crispEdges"/><line x1="635" x2="636.4" y1="187.5" y2="187.5" stroke="#d0d0d0" shape-rendering="crispEdges"/><line x1="635" x2="636.4" y1="184.5" y2="184.5" stroke="#d0d0d0" shape-rendering="crispEdges"/><line x1="635" x2="636.4" y1="181.5" y2="181.5" stroke="#d0d0d0" shape-rendering="crispEdges"/><line x1="635" x2="636.4" y1="178.5" y2="178.5" stroke="#d0d0d0" shape-rendering="crispEdges"/><line x1="635" x2="636.4" y1="175.5" y2="175.5" stroke="#d0d0d0" shape-rendering="crispEdges"/><line x1="635" x2="636.4" y1="172.5" y2="172.5" stroke="#d0d0d0" shape-rendering="crispEdges"/><line x1="635" x2="636.4" y1="168.5" y2="168.5" stroke="#d0d0d0" shape-rendering="crispEdges"/><line x1="635" x2="636.4" y1="165.5" y2="165.5" stroke="#d0d0d0" shape-rendering="crispEdges"/><line x1="635" x2="636.4" y1="162.5" y2="162.5" stroke="#d0d0d0" shape-rendering="crispEdges"/><line x1="635" x2="636.4" y1="159.5" y2="159.5" stroke="#d0d0d0" shape-rendering="crispEdges"/><line x1="635" x2="636.4" y1="156.5" y2="156.5" stroke="#d0d0d0" shape-rendering="crispEdges"/><line x1="635" x2="636.4" y1="153.5" y2="153.5" stroke="#d0d0d0" shape-rendering="crispEdges"/><line x1="635" x2="636.4" y1="150.5" y2="150.5" stroke="#d0d0d0" shape-rendering="crispEdges"/><line x1="635" x2="636.4" y1="146.5" y2="146.5" stroke="#d0d0d0" shape-rendering="crispEdges"/><line x1="635" x2="636.4" y1="143.5" y2="143.5" stroke="#d0d0d0" shape-rendering="crispEdges"/><line x1="635" x2="636.4" y1="140.5" y2="140.5" stroke="#d0d0d0" shape-rendering="crispEdges"/><line x1="635" x2="636.4" y1="137.5" y2="137.5" stroke="#d0d0d0" shape-rendering="crispEdges"/><line x1="635" x2="636.4" y1="134.5" y2="134.5" stroke="#d0d0d0" shape-rendering="crispEdges"/><line x1="635" x2="636.4" y1="131.5" y2="131.5" stroke="#d0d0d0" shape-rendering="crispEdges"/><line x1="635" x2="636.4" y1="128.5" y2="128.5" stroke="#d0d0d0" shape-rendering="crispEdges"/><line x1="635" x2="636.4" y1="125.5" y2="125.5" stroke="#d0d0d0" shape-rendering="crispEdges"/><line x1="635" x2="636.4" y1="122.5" y2="122.5" stroke="#d0d0d0" shape-rendering="crispEdges"/><line x1="635" x2="636.4" y1="119.5" y2="119.5" stroke="#d0d0d0" shape-rendering="crispEdges"/><line x1="635" x2="636.4" y1="116.5" y2="116.5" stroke="#d0d0d0" shape-rendering="crispEdges"/><line x1="635" x2="636.4" y1="112.5" y2="112.5" stroke="#d0d0d0" shape-rendering="crispEdges"/><line x1="635" x2="636.4" y1="109.5" y2="109.5" stroke="#d0d0d0" shape-rendering="crispEdges"/><line x1="635" x2="636.4" y1="106.5" y2="106.5" stroke="#d0d0d0" shape-rendering="crispEdges"/><line x1="635" x2="636.4" y1="103.5" y2="103.5" stroke="#d0d0d0" shape-rendering="crispEdges"/><line x1="635" x2="636.4" y1="100.5" y2="100.5" stroke="#d0d0d0" shape-rendering="crispEdges"/><line x1="635" x2="636.4" y1="97.5" y2="97.5" stroke="#d0d0d0" shape-rendering="crispEdges"/><line x1="635" x2="636.4" y1="94.5" y2="94.5" stroke="#d0d0d0" shape-rendering="crispEdges"/><line x1="635" x2="636.4" y1="91.5" y2="91.5" stroke="#d0d0d0" shape-rendering="crispEdges"/><line x1="635" x2="636.4" y1="88.5" y2="88.5" stroke="#d0d0d0" shape-rendering="crispEdges"/><line x1="635" x2="636.4" y1="85.5" y2="85.5" stroke="#d0d0d0" shape-rendering="crispEdges"/><line x1="635" x2="636.4" y1="82.5" y2="82.5" stroke="#d0d0d0" shape-rendering="crispEdges"/><line x1="635" x2="636.4" y1="79.5" y2="79.5" stroke="#d0d0d0" shape-rendering="crispEdges"/><line x1="635" x2="636.4" y1="76.5" y2="76.5" stroke="#d0d0d0" shape-rendering="crispEdges"/><line x1="635" x2="636.4" y1="73.5" y2="73.5" stroke="#d0d0d0" shape-rendering="crispEdges"/><line x1="635" x2="636.4" y1="70.5" y2="70.5" stroke="#d0d0d0" shape-rendering="crispEdges"/><line x1="635" x2="636.4" y1="67.5" y2="67.5" stroke="#d0d0d0" shape-rendering="crispEdges"/><line x1="635" x2="636.4" y1="64.5" y2="64.5" stroke="#d0d0d0" shape-rendering="crispEdges"/><line x1="635" x2="636.4" y1="61.5" y2="61.5" stroke="#d0d0d0" shape-rendering="crispEdges"/><line x1="635" x2="636.4" y1="58.5" y2="58.5" stroke="#d0d0d0" shape-rendering="crispEdges"/><line x1="635" x2="636.4" y1="55.5" y2="55.5" stroke="#d0d0d0" shape-rendering="crispEdges"/><line x1="635" x2="636.4" y1="52.5" y2="52.5" stroke="#d0d0d0" shape-rendering="crispEdges"/><line x1="635" x2="636.4" y1="49.5" y2="49.5" stroke="#d0d0d0" shape-rendering="crispEdges"/><line x1="635" x2="636.4" y1="46.5" y2="46.5" stroke="#d0d0d0" shape-rendering="crispEdges"/><line x1="635" x2="636.4" y1="44.5" y2="44.5" stroke="#d0d0d0" shape-rendering="crispEdges"/><line x1="635" x2="636.4" y1="41.5" y2="41.5" stroke="#d0d0d0" shape-rendering="crispEdges"/><line x1="635" x2="636.4" y1="38.5" y2="38.5" stroke="#d0d0d0" shape-rendering="crispEdges"/><line x1="635" x2="636.4" y1="35.5" y2="35.5" stroke="#d0d0d0" shape-rendering="crispEdges"/><line x1="635" x2="636.4" y1="32.5" y2="32.5" stroke="#d0d0d0" shape-rendering="crispEdges"/><line x1="635" x2="636.4" y1="29.5" y2="29.5" stroke="#d0d0d0" shape-rendering="crispEdges"/><line x1="635" x2="636.4" y1="26.5" y2="26.5" stroke="#d0d0d0" shape-rendering="crispEdges"/><text x="637.2" y="411.4" font-size="7.9" textLength="8.5" lengthAdjust="spacingAndGlyphs" fill="#111" stroke="#111" stroke-width=".15">90</text><text x="637.2" y="416.4" font-size="7.9" textLength="8.5" lengthAdjust="spacingAndGlyphs" fill="#111" stroke="#111" stroke-width=".15">70</text><text x="637.2" y="426.7" font-size="7.9" textLength="8.5" lengthAdjust="spacingAndGlyphs" fill="#111" stroke="#111" stroke-width=".15">30</text><text x="637.2" y="431.9" font-size="7.9" textLength="8.5" lengthAdjust="spacingAndGlyphs" fill="#111" stroke="#111" stroke-width=".15">10</text><path d="M632.7,88.50 L636.1,84.40 H666.9 V92.60 H636.1 Z" fill="#fff" stroke="#3c3caa" stroke-width="1.05" stroke-linejoin="miter"/><text x="636.9" y="91.35" font-size="7.7"  textLength="28.2" lengthAdjust="spacingAndGlyphs" fill="#111">2355.22</text><path d="M632.7,110.60 L636.1,106.60 H666.9 V114.60 H636.1 Z" fill="#fff" stroke="#111" stroke-width="1.2" stroke-linejoin="miter"/><text x="636.9" y="113.45" font-size="7.7" font-weight="bold" textLength="28.2" lengthAdjust="spacingAndGlyphs" fill="#111">2326.60</text><path d="M632.7,290.05 L636.1,286.25 H666.9 V293.85 H636.1 Z" fill="#fff" stroke="#d0143c" stroke-width="1.1" stroke-linejoin="miter"/><text x="636.9" y="292.90" font-size="7.7"  textLength="28.2" lengthAdjust="spacingAndGlyphs" fill="#111">2102.85</text><path d="M632.7,420.5 L636.1,416.45 H657.6 V424.45 H636.1 Z" fill="#fff" stroke="#111" stroke-width="1.2"/><text x="636.9" y="423.2" font-size="7.7" textLength="18.9" lengthAdjust="spacingAndGlyphs" fill="#111">45.09</text></g>
<g><text x="28.5" y="398.6" font-size="8.2" text-anchor="middle" textLength="8.3" lengthAdjust="spacingAndGlyphs" fill="#111" stroke="#111" stroke-width=".15">18</text><text x="28.5" y="445.8" font-size="8.2" text-anchor="middle" textLength="8.3" lengthAdjust="spacingAndGlyphs" fill="#111" stroke="#111" stroke-width=".15">18</text><text x="53.5" y="398.6" font-size="8.2" text-anchor="middle" textLength="8.3" lengthAdjust="spacingAndGlyphs" fill="#111" stroke="#111" stroke-width=".15">26</text><text x="53.5" y="445.8" font-size="8.2" text-anchor="middle" textLength="8.3" lengthAdjust="spacingAndGlyphs" fill="#111" stroke="#111" stroke-width=".15">26</text><text x="73.5" y="398.6" font-size="8.5" font-weight="bold" text-anchor="middle" textLength="18.0" lengthAdjust="spacingAndGlyphs" fill="#000">2024</text><text x="73.5" y="445.8" font-size="8.5" font-weight="bold" text-anchor="middle" textLength="18.0" lengthAdjust="spacingAndGlyphs" fill="#000">2024</text><text x="93.6" y="398.6" font-size="8.2" text-anchor="middle" textLength="3.8" lengthAdjust="spacingAndGlyphs" fill="#111" stroke="#111" stroke-width=".15">8</text><text x="93.6" y="445.8" font-size="8.2" text-anchor="middle" textLength="3.8" lengthAdjust="spacingAndGlyphs" fill="#111" stroke="#111" stroke-width=".15">8</text><text x="118.6" y="398.6" font-size="8.2" text-anchor="middle" textLength="8.3" lengthAdjust="spacingAndGlyphs" fill="#111" stroke="#111" stroke-width=".15">16</text><text x="118.6" y="445.8" font-size="8.2" text-anchor="middle" textLength="8.3" lengthAdjust="spacingAndGlyphs" fill="#111" stroke="#111" stroke-width=".15">16</text><text x="138.6" y="398.6" font-size="8.2" text-anchor="middle" textLength="8.3" lengthAdjust="spacingAndGlyphs" fill="#111" stroke="#111" stroke-width=".15">22</text><text x="138.6" y="445.8" font-size="8.2" text-anchor="middle" textLength="8.3" lengthAdjust="spacingAndGlyphs" fill="#111" stroke="#111" stroke-width=".15">22</text><text x="163.6" y="398.6" font-size="8.2" text-anchor="middle" textLength="8.3" lengthAdjust="spacingAndGlyphs" fill="#111" stroke="#111" stroke-width=".15">29</text><text x="163.6" y="445.8" font-size="8.2" text-anchor="middle" textLength="8.3" lengthAdjust="spacingAndGlyphs" fill="#111" stroke="#111" stroke-width=".15">29</text><text x="179.3" y="398.6" font-size="8.5" font-weight="bold" text-anchor="middle" textLength="14.2" lengthAdjust="spacingAndGlyphs" fill="#000">Feb</text><text x="179.3" y="445.8" font-size="8.5" font-weight="bold" text-anchor="middle" textLength="14.2" lengthAdjust="spacingAndGlyphs" fill="#000">Feb</text><text x="188.6" y="398.6" font-size="8.2" text-anchor="middle" textLength="3.8" lengthAdjust="spacingAndGlyphs" fill="#111" stroke="#111" stroke-width=".15">5</text><text x="188.6" y="445.8" font-size="8.2" text-anchor="middle" textLength="3.8" lengthAdjust="spacingAndGlyphs" fill="#111" stroke="#111" stroke-width=".15">5</text><text x="213.6" y="398.6" font-size="8.2" text-anchor="middle" textLength="8.3" lengthAdjust="spacingAndGlyphs" fill="#111" stroke="#111" stroke-width=".15">12</text><text x="213.6" y="445.8" font-size="8.2" text-anchor="middle" textLength="8.3" lengthAdjust="spacingAndGlyphs" fill="#111" stroke="#111" stroke-width=".15">12</text><text x="238.7" y="398.6" font-size="8.2" text-anchor="middle" textLength="8.3" lengthAdjust="spacingAndGlyphs" fill="#111" stroke="#111" stroke-width=".15">20</text><text x="238.7" y="445.8" font-size="8.2" text-anchor="middle" textLength="8.3" lengthAdjust="spacingAndGlyphs" fill="#111" stroke="#111" stroke-width=".15">20</text><text x="258.7" y="398.6" font-size="8.2" text-anchor="middle" textLength="8.3" lengthAdjust="spacingAndGlyphs" fill="#111" stroke="#111" stroke-width=".15">26</text><text x="258.7" y="445.8" font-size="8.2" text-anchor="middle" textLength="8.3" lengthAdjust="spacingAndGlyphs" fill="#111" stroke="#111" stroke-width=".15">26</text><text x="279.4" y="398.6" font-size="8.5" font-weight="bold" text-anchor="middle" textLength="14.6" lengthAdjust="spacingAndGlyphs" fill="#000">Mar</text><text x="279.4" y="445.8" font-size="8.5" font-weight="bold" text-anchor="middle" textLength="14.6" lengthAdjust="spacingAndGlyphs" fill="#000">Mar</text><text x="308.7" y="398.6" font-size="8.2" text-anchor="middle" textLength="8.3" lengthAdjust="spacingAndGlyphs" fill="#111" stroke="#111" stroke-width=".15">11</text><text x="308.7" y="445.8" font-size="8.2" text-anchor="middle" textLength="8.3" lengthAdjust="spacingAndGlyphs" fill="#111" stroke="#111" stroke-width=".15">11</text><text x="333.7" y="398.6" font-size="8.2" text-anchor="middle" textLength="8.3" lengthAdjust="spacingAndGlyphs" fill="#111" stroke="#111" stroke-width=".15">18</text><text x="333.7" y="445.8" font-size="8.2" text-anchor="middle" textLength="8.3" lengthAdjust="spacingAndGlyphs" fill="#111" stroke="#111" stroke-width=".15">18</text><text x="358.8" y="398.6" font-size="8.2" text-anchor="middle" textLength="8.3" lengthAdjust="spacingAndGlyphs" fill="#111" stroke="#111" stroke-width=".15">25</text><text x="358.8" y="445.8" font-size="8.2" text-anchor="middle" textLength="8.3" lengthAdjust="spacingAndGlyphs" fill="#111" stroke="#111" stroke-width=".15">25</text><text x="379.5" y="398.6" font-size="8.5" font-weight="bold" text-anchor="middle" textLength="13.6" lengthAdjust="spacingAndGlyphs" fill="#000">Apr</text><text x="379.5" y="445.8" font-size="8.5" font-weight="bold" text-anchor="middle" textLength="13.6" lengthAdjust="spacingAndGlyphs" fill="#000">Apr</text><text x="403.8" y="398.6" font-size="8.2" text-anchor="middle" textLength="3.8" lengthAdjust="spacingAndGlyphs" fill="#111" stroke="#111" stroke-width=".15">8</text><text x="403.8" y="445.8" font-size="8.2" text-anchor="middle" textLength="3.8" lengthAdjust="spacingAndGlyphs" fill="#111" stroke="#111" stroke-width=".15">8</text><text x="428.8" y="398.6" font-size="8.2" text-anchor="middle" textLength="8.3" lengthAdjust="spacingAndGlyphs" fill="#111" stroke="#111" stroke-width=".15">15</text><text x="428.8" y="445.8" font-size="8.2" text-anchor="middle" textLength="8.3" lengthAdjust="spacingAndGlyphs" fill="#111" stroke="#111" stroke-width=".15">15</text><text x="453.8" y="398.6" font-size="8.2" text-anchor="middle" textLength="8.3" lengthAdjust="spacingAndGlyphs" fill="#111" stroke="#111" stroke-width=".15">22</text><text x="453.8" y="445.8" font-size="8.2" text-anchor="middle" textLength="8.3" lengthAdjust="spacingAndGlyphs" fill="#111" stroke="#111" stroke-width=".15">22</text><text x="489.6" y="398.6" font-size="8.5" font-weight="bold" text-anchor="middle" textLength="15.8" lengthAdjust="spacingAndGlyphs" fill="#000">May</text><text x="489.6" y="445.8" font-size="8.5" font-weight="bold" text-anchor="middle" textLength="15.8" lengthAdjust="spacingAndGlyphs" fill="#000">May</text><text x="503.9" y="398.6" font-size="8.2" text-anchor="middle" textLength="3.8" lengthAdjust="spacingAndGlyphs" fill="#111" stroke="#111" stroke-width=".15">6</text><text x="503.9" y="445.8" font-size="8.2" text-anchor="middle" textLength="3.8" lengthAdjust="spacingAndGlyphs" fill="#111" stroke="#111" stroke-width=".15">6</text><text x="528.9" y="398.6" font-size="8.2" text-anchor="middle" textLength="8.3" lengthAdjust="spacingAndGlyphs" fill="#111" stroke="#111" stroke-width=".15">13</text><text x="528.9" y="445.8" font-size="8.2" text-anchor="middle" textLength="8.3" lengthAdjust="spacingAndGlyphs" fill="#111" stroke="#111" stroke-width=".15">13</text><text x="553.9" y="398.6" font-size="8.2" text-anchor="middle" textLength="8.3" lengthAdjust="spacingAndGlyphs" fill="#111" stroke="#111" stroke-width=".15">20</text><text x="553.9" y="445.8" font-size="8.2" text-anchor="middle" textLength="8.3" lengthAdjust="spacingAndGlyphs" fill="#111" stroke="#111" stroke-width=".15">20</text><text x="578.9" y="398.6" font-size="8.2" text-anchor="middle" textLength="8.3" lengthAdjust="spacingAndGlyphs" fill="#111" stroke="#111" stroke-width=".15">28</text><text x="578.9" y="445.8" font-size="8.2" text-anchor="middle" textLength="8.3" lengthAdjust="spacingAndGlyphs" fill="#111" stroke="#111" stroke-width=".15">28</text><text x="599.7" y="398.6" font-size="8.5" font-weight="bold" text-anchor="middle" textLength="14.2" lengthAdjust="spacingAndGlyphs" fill="#000">Jun</text><text x="599.7" y="445.8" font-size="8.5" font-weight="bold" text-anchor="middle" textLength="14.2" lengthAdjust="spacingAndGlyphs" fill="#000">Jun</text><text x="624.0" y="398.6" font-size="8.2" text-anchor="middle" textLength="8.3" lengthAdjust="spacingAndGlyphs" fill="#111" stroke="#111" stroke-width=".15">10</text><text x="624.0" y="445.8" font-size="8.2" text-anchor="middle" textLength="8.3" lengthAdjust="spacingAndGlyphs" fill="#111" stroke="#111" stroke-width=".15">10</text></g>
<g><text x="6.3" y="11.2" font-size="10.8" font-weight="bold" textLength="31.7" lengthAdjust="spacingAndGlyphs" fill="#000" stroke="#000" stroke-width=".25">$GOLD</text><text x="42.1" y="10.8" font-size="8.6" textLength="119.4" lengthAdjust="spacingAndGlyphs" fill="#111" stroke="#111" stroke-width=".15">Gold - Continuous Contract (EOD)</text><text x="166.7" y="10.8" font-size="7.2" textLength="15.7" lengthAdjust="spacingAndGlyphs" fill="#111" stroke="#111" stroke-width=".3">CME</text><text x="6.3" y="20.1" font-size="7.8" textLength="43.7" lengthAdjust="spacingAndGlyphs" fill="#111" stroke="#111" stroke-width=".12">11-Jun-2024</text><text x="567.5" y="10.6" font-size="8.6" textLength="66.6" lengthAdjust="spacingAndGlyphs" fill="#666" stroke="#666" stroke-width=".2">© StockCharts.com</text><text x="272.2" y="19.9" font-size="8.3" font-weight="bold" textLength="20.9" lengthAdjust="spacingAndGlyphs" fill="#000">Open</text><text x="295.9" y="19.9" font-size="8.3"  textLength="28.8" lengthAdjust="spacingAndGlyphs" fill="#000">2329.50</text><text x="329.5" y="19.9" font-size="8.3" font-weight="bold" textLength="17.6" lengthAdjust="spacingAndGlyphs" fill="#000">High</text><text x="350.2" y="19.9" font-size="8.3"  textLength="28.4" lengthAdjust="spacingAndGlyphs" fill="#000">2337.30</text><text x="383.5" y="19.9" font-size="8.3" font-weight="bold" textLength="17.0" lengthAdjust="spacingAndGlyphs" fill="#000">Low</text><text x="403.5" y="19.9" font-size="8.3"  textLength="28.4" lengthAdjust="spacingAndGlyphs" fill="#000">2314.50</text><text x="437.2" y="19.9" font-size="8.3" font-weight="bold" textLength="23.4" lengthAdjust="spacingAndGlyphs" fill="#000">Close</text><text x="463.6" y="19.9" font-size="8.3"  textLength="28.0" lengthAdjust="spacingAndGlyphs" fill="#000">2326.60</text><text x="496.9" y="19.9" font-size="8.3" font-weight="bold" textLength="31.6" lengthAdjust="spacingAndGlyphs" fill="#000">Volume</text><text x="532.7" y="19.9" font-size="8.3"  textLength="20.9" lengthAdjust="spacingAndGlyphs" fill="#000">14.2M</text><text x="558.8" y="19.9" font-size="8.3" font-weight="bold" textLength="15.2" lengthAdjust="spacingAndGlyphs" fill="#000">Chg</text><text x="577.5" y="19.9" font-size="8.3"  textLength="49.5" lengthAdjust="spacingAndGlyphs" fill="#000">-0.40 (-0.02%)</text><path d="M629.1,16 H633.9 L631.5,19.4 Z" fill="#b0143c"/><path d="M8.3,29.4 L10.4,25.4 L11.4,26.6 L12.4,24.2 L14.8,29.4 Z" fill="#e0bc58"/><text x="17.7" y="29.6" font-size="7.9" textLength="95.6" lengthAdjust="spacing" fill="#111" stroke="#111" stroke-width=".15">$GOLD (Daily) 2326.60</text><line x1="8.3" x2="14.8" y1="35" y2="35" stroke="#1e1e9c" stroke-width="1.5"/><text x="16.1" y="37.7" font-size="7.2" textLength="51.4" lengthAdjust="spacingAndGlyphs" fill="#2626a6" stroke="#2626a6" stroke-width=".15">MA(50) 2355.22</text><line x1="8.3" x2="14.8" y1="43.2" y2="43.2" stroke="#e01030" stroke-width="1.5"/><text x="16.1" y="45.7" font-size="7.2" textLength="54.8" lengthAdjust="spacingAndGlyphs" fill="#d8143c" stroke="#d8143c" stroke-width=".15">MA(200) 2102.85</text><path d="M8.3,408.6 L9.2,406 L10.2,405.6 L11.3,402.8 L12.3,405.4 L13.3,404.6 L14.8,408.6 Z" fill="#6a8a6c" stroke="#1c1c1c" stroke-width=".9" stroke-linejoin="round"/><text x="18" y="408.9" font-size="7.4" textLength="58.6" lengthAdjust="spacing" fill="#111" stroke="#111" stroke-width=".25">RSI(14) 45.09</text></g>
</svg></body></html>
